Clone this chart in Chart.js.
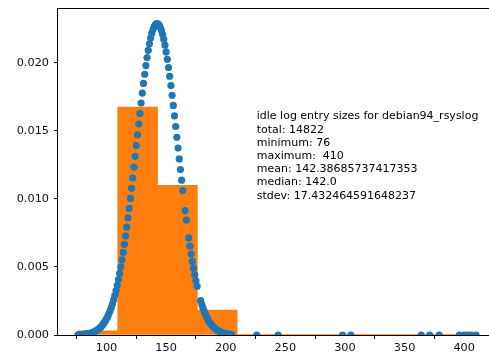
<!DOCTYPE html>
<html>
<head>
<meta charset="utf-8">
<script src="https://cdn.jsdelivr.net/npm/chart.js@4.4.0/dist/chart.umd.min.js"></script>
<style>
  html, body { margin: 0; padding: 0; background: #fff; overflow: hidden; }
  #wrap { width: 500px; height: 358px; }
</style>
</head>
<body>
<div id="wrap"><canvas id="histChart" width="500" height="358"></canvas></div>
<script>
// histogram (density) of idle log entry sizes, 10 bins from 76 to 410
const binEdges = [76, 109.4, 142.8, 176.2, 209.6, 243, 276.4, 309.8, 343.2, 376.6, 410];
const binDensity = [0.0003, 0.01674, 0.0110, 0.00183, 0.000004, 0.000004, 0.000004, 0.000002, 0.000006, 0.000012];

const sizeX = [
  76, 77, 78, 79, 80, 81, 82, 83, 84, 85, 86, 87, 88, 89, 90, 91, 92, 93, 94, 95,
  96, 97, 98, 99, 100, 101, 102, 103, 104, 105, 106, 107, 108, 109, 110, 111, 112, 113, 114, 115,
  116, 117, 118, 119, 120, 121, 122, 123, 124, 125, 126, 127, 128, 129, 130, 131, 132, 133, 134, 135,
  136, 137, 138, 139, 140, 141, 142, 143, 144, 145, 146, 147, 148, 149, 150, 151, 152, 153, 154, 155,
  156, 157, 158, 159, 160, 161, 162, 163, 164, 166, 167, 169, 170, 171, 172, 173, 174, 175, 176, 179,
  180, 181, 182, 183, 184, 185, 186, 187, 188, 189, 190, 191, 192, 193, 194, 195, 196, 197, 198, 199,
  200, 201, 202, 203, 204, 205,
  226, 244, 298, 305, 364, 371, 379, 396, 400, 403, 406, 410
];
const pdfY = [
  0.000016, 0.000020, 0.000025, 0.000031, 0.000038, 0.000046, 0.000057, 0.000069, 0.000084, 0.000101,
  0.000122, 0.000147, 0.000176, 0.000210, 0.000250, 0.000297, 0.000351, 0.000414, 0.000486, 0.000569,
  0.000664, 0.000772, 0.000895, 0.001034, 0.001191, 0.001366, 0.001563, 0.001782, 0.002027, 0.002295,
  0.002592, 0.002916, 0.003271, 0.003657, 0.004075, 0.004526, 0.005009, 0.005527, 0.006079, 0.006663,
  0.007279, 0.007926, 0.008603, 0.009304, 0.010033, 0.010782, 0.011550, 0.012331, 0.013121, 0.013917,
  0.014712, 0.015501, 0.016279, 0.017041, 0.017780, 0.018487, 0.019163, 0.019796, 0.020385, 0.020919,
  0.021400, 0.021819, 0.022171, 0.022457, 0.022671, 0.022812, 0.022879, 0.022871, 0.022787, 0.022630,
  0.022398, 0.022097, 0.021730, 0.021296, 0.020803, 0.020255, 0.019658, 0.019014, 0.018331, 0.017615,
  0.016871, 0.016106, 0.015323, 0.014532, 0.013737, 0.012942, 0.012153, 0.011375, 0.010611, 0.009144,
  0.008447, 0.007136, 0.006527, 0.005951, 0.005407, 0.004897, 0.004420, 0.003977, 0.003566, 0.002521,
  0.002232, 0.001968, 0.001731, 0.001518, 0.001326, 0.001154, 0.001001, 0.000866, 0.000747, 0.000641,
  0.000549, 0.000469, 0.000399, 0.000338, 0.000286, 0.000241, 0.000202, 0.000169, 0.000141, 0.000117,
  0.000097, 0.000080, 0.000066, 0.000054, 0.000044, 0.000036,
  0, 0, 0, 0, 0, 0, 0, 0, 0, 0, 0, 0
];

const xTicks = [100, 150, 200, 250, 300, 350, 400];
const yTicks = [0, 0.005, 0.010, 0.015, 0.020];

const statLines = [
  'idle log entry sizes for debian94_rsyslog',
  'total: 14822',
  'minimum: 76',
  'maximum:  410',
  'mean: 142.38685737417353',
  'median: 142.0',
  'stdev: 17.432464591648237'
];

const barData = binDensity.map((d, i) => ({ x: (binEdges[i] + binEdges[i + 1]) / 2, y: d }));
const dotData = sizeX.map((x, i) => ({ x: x, y: pdfY[i] }));

const tickFont = { family: 'DejaVu Sans', size: 11.3 };

const framePlugin = {
  id: 'frameAndText',
  afterDraw(chart) {
    const ctx = chart.ctx;
    const a = chart.chartArea;
    ctx.save();
    ctx.strokeStyle = '#000';
    ctx.lineWidth = 1;
    ctx.strokeRect(Math.round(a.left) - 0.5, Math.round(a.top) + 0.5,
      Math.round(a.right - a.left) + 1, Math.round(a.bottom - a.top));
    // stats text block
    const tx = chart.scales.x.getPixelForValue(226);
    const ty = chart.scales.y.getPixelForValue(0.01606);
    ctx.fillStyle = '#000';
    ctx.font = '11px "DejaVu Sans"';
    ctx.textBaseline = 'middle';
    ctx.textAlign = 'left';
    statLines.forEach((t, i) => ctx.fillText(t, tx, ty + i * 13.2));
    ctx.restore();
  }
};

new Chart(document.getElementById('histChart'), {
  type: 'bar',
  data: {
    datasets: [{
      type: 'scatter',
      data: dotData,
      backgroundColor: '#1f77b4',
      borderWidth: 0,
      pointRadius: 3.6,
      order: 0
    }, {
      type: 'bar',
      data: barData,
      backgroundColor: '#ff7f0e',
      borderWidth: 0,
      barPercentage: 1,
      categoryPercentage: 1,
      order: 1
    }]
  },
  options: {
    responsive: false,
    animation: false,
    layout: { padding: { top: 8, right: 3, left: 0, bottom: 0 } },
    plugins: { legend: { display: false }, tooltip: { enabled: false } },
    scales: {
      x: {
        type: 'linear',
        offset: false,
        min: 59.3,
        max: 426.7,
        afterFit(s) { s.height = 23; s.paddingLeft = 0; s.paddingRight = 0; },
        afterBuildTicks(s) { s.ticks = xTicks.map(v => ({ value: v })); },
        grid: { display: true, drawOnChartArea: false, drawTicks: true, tickLength: 4, color: '#000' },
        border: { display: false },
        ticks: { font: tickFont, color: '#111', padding: 2, maxRotation: 0 }
      },
      y: {
        min: 0,
        max: 0.02403,
        afterFit(s) { s.width = 58; s.paddingTop = 0; s.paddingBottom = 0; },
        afterBuildTicks(s) { s.ticks = yTicks.map(v => ({ value: v })); },
        grid: { display: true, drawOnChartArea: false, drawTicks: true, tickLength: 4, color: '#000' },
        border: { display: false },
        ticks: { font: tickFont, color: '#111', padding: 5, callback: v => v.toFixed(3) }
      }
    }
  },
  plugins: [framePlugin]
});
</script>
</body>
</html>
